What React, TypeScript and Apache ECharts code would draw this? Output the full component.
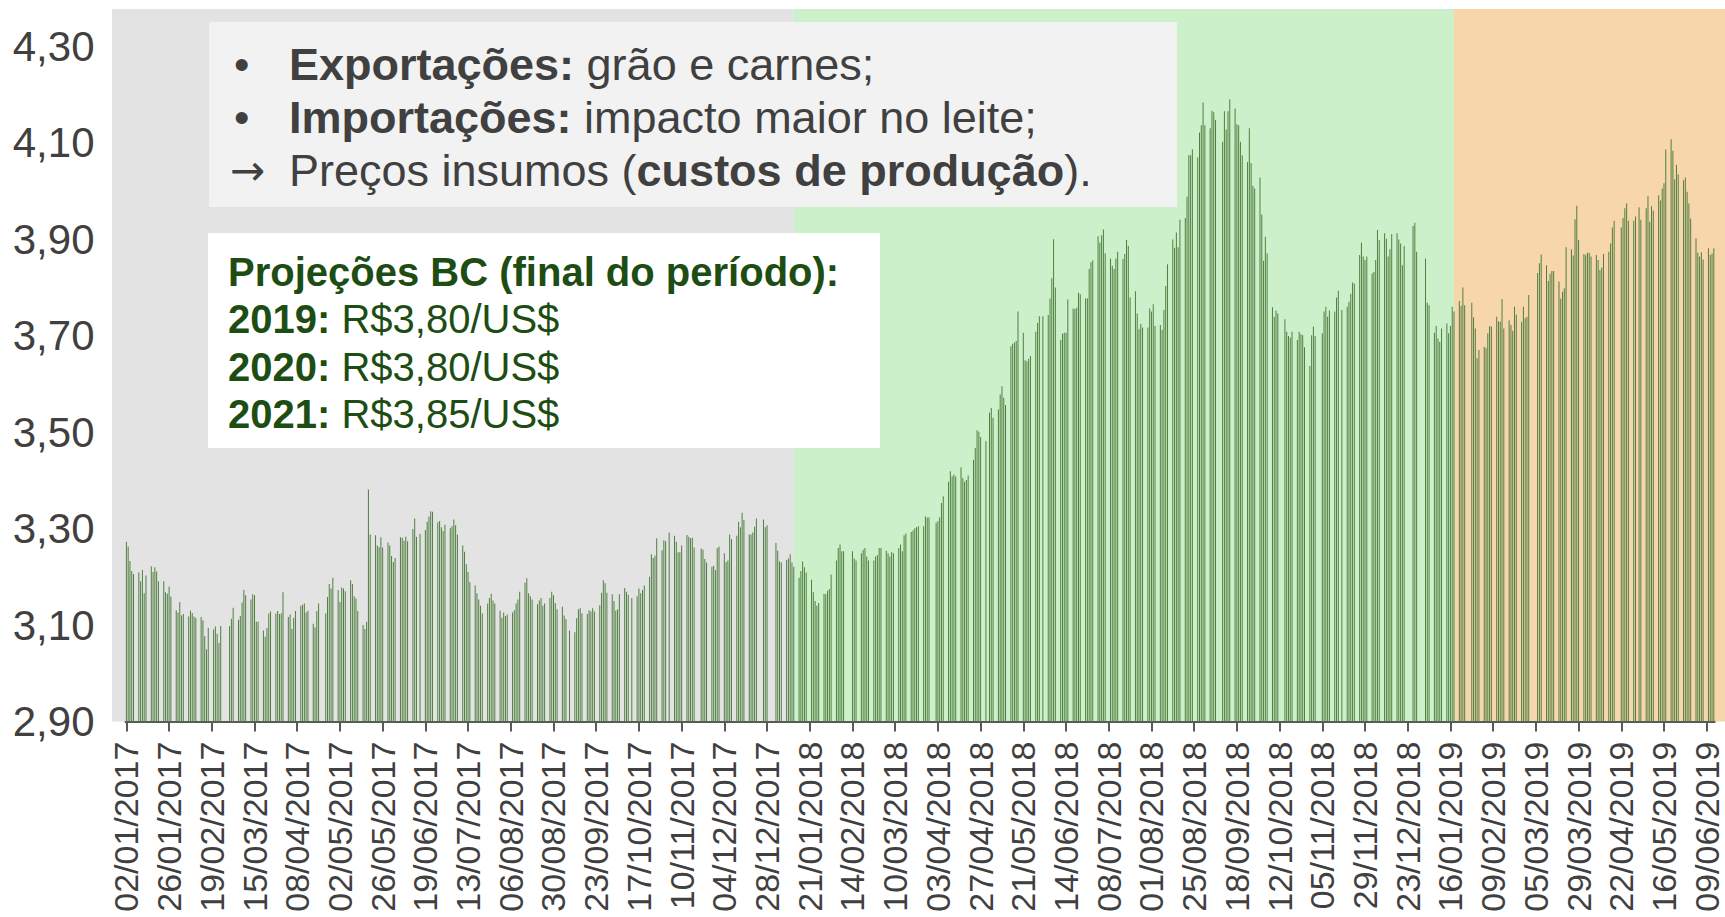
import React, { useEffect, useRef } from 'react';
import * as echarts from 'echarts';

// Calendar range of the category axis (one category per calendar day)
const FIRST_DAY = [2017, 1, 2];
const LAST_DAY = [2019, 6, 13];

// R$/US$ by business day, Monday..Friday of each week (null = no quote)
const rates2017: (number | null)[] = [
  3.273, 3.263, 3.233, 3.212, 3.206, 3.209, 3.191, 3.214, 3.166, 3.203,
  3.222, 3.210, 3.220, 3.211, 3.191, 3.191, 3.168, 3.165, 3.180, 3.159,
  3.131, 3.126, 3.148, 3.120, 3.123, 3.118, 3.130, 3.125, 3.118, 3.115,
  3.117, 3.110, 3.077, 3.050, 3.094, 3.091, 3.097, 3.082, 3.063, 3.098,
  null, null, 3.098, 3.113, 3.136, 3.111, 3.119, 3.147, 3.173, 3.162,
  3.153, 3.164, 3.162, 3.107, 3.107, 3.089, 3.076, 3.094, 3.124, 3.128,
  3.124, 3.129, 3.123, 3.124, 3.168, 3.117, 3.122, 3.092, 3.115, 3.129,
  3.140, 3.142, 3.145, 3.126, 3.130, 3.103, 3.095, 3.129, 3.145, null,
  3.124, 3.158, 3.185, 3.176, 3.198, 3.172, 3.148, 3.178, 3.176, 3.170,
  3.193, 3.185, 3.160, 3.155, 3.129, 3.100, 3.092, 3.107, 3.381, 3.288,
  3.286, 3.265, 3.262, 3.282, 3.261, 3.271, 3.265, 3.243, 3.231, 3.239,
  3.282, 3.281, 3.275, 3.283, 3.274, 3.299, 3.321, 3.283, null, 3.289,
  3.297, 3.314, 3.325, 3.336, 3.335, 3.313, 3.316, 3.303, 3.295, 3.308,
  3.301, 3.305, 3.319, 3.307, 3.288, 3.265, 3.252, 3.226, 3.210, 3.189,
  3.182, 3.166, 3.153, 3.140, 3.124, 3.145, 3.156, 3.165, 3.151, 3.145,
  3.130, 3.115, 3.126, 3.119, 3.122, 3.126, 3.131, 3.145, 3.153, 3.169,
  3.188, 3.197, 3.166, 3.160, 3.153, 3.143, 3.151, 3.156, 3.140, 3.145,
  3.156, 3.169, 3.162, 3.146, 3.133, 3.138, 3.120, 3.112, null, 3.089,
  3.085, 3.114, 3.133, 3.135, 3.124, 3.123, 3.131, 3.128, 3.135, 3.128,
  3.141, 3.167, 3.193, 3.187, 3.167, 3.164, 3.150, 3.130, 3.133, 3.164,
  3.177, 3.169, 3.163, null, 3.156, 3.160, 3.176, 3.166, 3.173, 3.182,
  3.200, 3.247, 3.239, 3.244, 3.280, 3.255, 3.276, 3.274, null, 3.292,
  3.285, 3.273, 3.251, 3.251, 3.265, 3.287, 3.283, 3.280, 3.281, 3.261,
  null, 3.259, 3.256, 3.237, 3.230, 3.221, 3.223, 3.214, 3.260, 3.263,
  3.249, 3.231, 3.234, 3.288, 3.278, 3.285, 3.314, 3.303, 3.333, 3.318,
  3.288, 3.288, 3.292, 3.304, 3.321, null, 3.319, 3.303, 3.307, null,
];

const rates2018: (number | null)[] = [
  null, 3.270, 3.254, 3.232, 3.230, 3.235, 3.238, 3.247, 3.230, 3.221,
  3.198, 3.212, 3.232, 3.220, 3.209, 3.194, 3.168, 3.150, 3.140, 3.146,
  3.165, 3.164, 3.171, 3.175, 3.205, 3.234, 3.260, 3.267, 3.253, 3.253,
  null, null, 3.253, 3.238, 3.234, 3.249, 3.256, 3.260, 3.242, 3.234,
  3.234, 3.242, 3.245, 3.260, 3.260, 3.254, 3.249, 3.242, 3.251, 3.249,
  3.260, 3.267, 3.253, 3.286, 3.290, 3.293, 3.296, 3.301, 3.303, 3.305,
  3.305, 3.325, 3.323, 3.323, null, 3.312, 3.316, 3.323, 3.353, 3.367,
  3.397, 3.419, 3.408, 3.412, 3.408, 3.427, 3.405, 3.397, 3.401, 3.410,
  3.442, 3.467, 3.504, 3.501, 3.490, 3.481, null, 3.540, 3.550, 3.530,
  3.547, 3.578, 3.595, 3.571, 3.556, 3.678, 3.683, 3.686, 3.689, 3.750,
  3.706, 3.649, 3.647, 3.652, 3.658, 3.708, 3.726, 3.740, null, 3.740,
  3.743, 3.777, 3.819, 3.900, 3.800, 3.691, 3.704, 3.706, 3.706, 3.775,
  3.756, 3.755, 3.758, 3.789, 3.786, 3.777, 3.777, 3.838, 3.852, 3.856,
  3.906, 3.893, 3.908, 3.920, 3.871, 3.860, 3.845, 3.838, 3.860, 3.874,
  3.859, 3.869, 3.898, 3.886, 3.779, 3.792, 3.746, 3.713, 3.724, 3.717,
  3.717, 3.756, 3.750, 3.765, 3.720, 3.722, 3.712, 3.753, 3.803, 3.848,
  3.899, 3.882, 3.914, 3.883, 3.940, 3.944, 3.988, 4.074, 4.074, 4.086,
  4.069, 4.121, 4.136, 4.183, 4.136, 4.130, 4.166, 4.163, 4.147, null,
  4.102, 4.165, 4.127, 4.165, 4.190, 4.171, 4.138, 4.136, 4.102, 4.074,
  4.060, 4.130, 4.058, 4.010, 4.005, 4.028, 3.951, 3.855, 3.905, 3.870,
  3.759, 3.739, 3.752, 3.746, null, 3.734, 3.708, 3.699, 3.696, 3.708,
  3.691, 3.708, 3.703, 3.701, 3.676, 3.637, 3.701, 3.719, 3.699, null,
  3.705, 3.750, 3.760, 3.739, 3.752, 3.750, 3.779, 3.793, null, 3.753,
  3.760, 3.770, 3.787, 3.810, 3.808, 3.867, 3.893, 3.864, 3.857, 3.864,
  3.829, 3.832, 3.857, 3.919, 3.898, 3.912, 3.901, 3.864, 3.879, 3.910,
  3.912, 3.899, 3.891, 3.846, 3.886, null, null, 3.927, 3.934, 3.874,
];

const rates2019: (number | null)[] = [
  null, null, 3.860, 3.768, 3.763, 3.706, 3.720, 3.694, 3.687, 3.715,
  3.725, 3.705, 3.720, 3.760, 3.750, 3.772, 3.762, 3.800, 3.763, null,
  3.768, 3.738, 3.715, 3.653, 3.670, 3.677, 3.674, 3.705, 3.720, 3.719,
  3.739, 3.730, 3.729, 3.776, 3.715, 3.732, 3.722, 3.710, 3.760, 3.744,
  3.729, 3.760, 3.736, 3.739, 3.784, null, null, 3.830, 3.850, 3.868,
  3.846, 3.813, 3.828, 3.834, 3.834, 3.812, 3.777, 3.791, 3.798, 3.883,
  3.879, 3.866, 3.941, 3.969, 3.898, 3.869, 3.867, 3.872, 3.872, 3.864,
  3.867, 3.857, 3.836, 3.841, 3.869, 3.874, 3.891, 3.924, 3.938, null,
  3.924, 3.944, 3.964, 3.974, 3.938, 3.938, 3.947, null, 3.966, 3.940,
  3.964, 3.989, 3.936, 3.968, 3.959, 3.991, 3.980, 4.005, 4.016, 4.086,
  4.107, 4.083, 4.024, 4.054, 4.034, 4.022, 4.028, 3.998, 3.974, 3.943,
  3.902, 3.872, 3.864, 3.873, 3.858, 3.881, 3.867, 3.870, 3.881,
];

// Background periods (category where each shading band ends)
const periodEnds = ['12/01/2018', '18/01/2019'];
const periodColors = ['#e3e3e3', '#ccf0c9', '#f8d6ab'];

// Y axis
const Y_MIN = 2.9;
const Y_MAX = 4.377;
const Y_STEP = 0.2;

const boxLines1 = [
  { mark: '•', text: '{b|Exportações:} grão e carnes;' },
  { mark: '•', text: '{b|Importações:} impacto maior no leite;' },
  { mark: '→', text: 'Preços insumos ({b|custos de produção}).' },
];
const boxLines2 = [
  '{b|Projeções BC (final do período):}',
  '{b|2019:} R$3,80/US$',
  '{b|2020:} R$3,80/US$',
  '{b|2021:} R$3,85/US$',
];

const FONT = '"Liberation Sans", Arial, Helvetica, sans-serif';
const pad = (n: number) => (n < 10 ? '0' + n : '' + n);

function buildSeries() {
  const cats: string[] = [];
  const vals: (number | null)[] = [];
  const all = [...rates2017, ...rates2018, ...rates2019];
  let k = 0;
  const start = Date.UTC(FIRST_DAY[0], FIRST_DAY[1] - 1, FIRST_DAY[2]);
  const end = Date.UTC(LAST_DAY[0], LAST_DAY[1] - 1, LAST_DAY[2]);
  for (let t = start; t <= end; t += 86400000) {
    const d = new Date(t);
    cats.push(`${pad(d.getUTCDate())}/${pad(d.getUTCMonth() + 1)}/${d.getUTCFullYear()}`);
    const wd = d.getUTCDay();
    if (wd >= 1 && wd <= 5) {
      vals.push(k < all.length ? all[k] : null);
      k++;
    } else {
      vals.push(null);
    }
  }
  return { cats, vals };
}

export default function App() {
  const ref = useRef<HTMLDivElement>(null);
  useEffect(() => {
    if (!ref.current) return;
    const chart = echarts.init(ref.current, undefined, { renderer: 'svg' });
    const { cats, vals } = buildSeries();
    const GRID = { left: 125.5, right: 10.3, top: 9, bottom: 195.4 };
    chart.setOption({
      animation: false,
      backgroundColor: '#ffffff',
      grid: { ...GRID, containLabel: false },
      xAxis: {
        type: 'category',
        data: cats,
        boundaryGap: true,
        axisLine: { show: true, lineStyle: { color: '#595959', width: 2 } },
        axisTick: { show: true, interval: 23, alignWithLabel: true, length: 10, lineStyle: { color: '#595959', width: 2 } },
        axisLabel: {
          interval: 23,
          rotate: 90,
          margin: 20,
          color: '#404040',
          fontSize: 34,
          fontFamily: FONT,
        },
        splitLine: { show: false },
      },
      yAxis: {
        type: 'value',
        min: Y_MIN,
        max: Y_MAX,
        interval: Y_STEP,
        axisLine: { show: false },
        axisTick: { show: false },
        splitLine: { show: false },
        axisLabel: {
          margin: 31,
          color: '#404040',
          fontSize: 42,
          fontFamily: FONT,
          formatter: (v: number) => {
            const s = (v - Y_MIN) / Y_STEP;
            if (Math.abs(s - Math.round(s)) > 0.01) return '';
            return v.toFixed(2).replace('.', ',');
          },
        },
      },
      series: [
        {
          type: 'bar',
          data: vals,
          barWidth: 0.9,
          itemStyle: { color: '#4f7f40' },
          z: 5,
        },
      ],
    });

    const W = chart.getWidth();
    const yTop = GRID.top;
    const yBot = chart.convertToPixel({ yAxisIndex: 0 }, Y_MIN) as number;
    const xs = [GRID.left - 13.5, ...periodEnds.map((c) => chart.convertToPixel({ xAxisIndex: 0 }, c) as number), W];
    const bg = periodColors.map((color, i) => ({
      type: 'rect',
      id: 'bg' + i,
      z: -10,
      silent: true,
      shape: { x: xs[i], y: yTop, width: xs[i + 1] - xs[i], height: yBot - yTop },
      style: { fill: color },
    }));

    const grey = '#404040';
    const green = '#1d4d13';
    const box1: any[] = [
      { type: 'rect', id: 'box1', z: 50, shape: { x: 209, y: 22, width: 968, height: 185 }, style: { fill: '#f2f2f2' } },
    ];
    boxLines1.forEach((ln, i) => {
      const y = 64 + i * 53.3;
      const isArrow = i === 2;
      box1.push({
        type: 'text', id: 'm' + i, z: 51, x: isArrow ? 230 : 234, y,
        style: {
          text: ln.mark, fill: grey, fontSize: isArrow ? 42 : 44,
          fontFamily: isArrow ? '"DejaVu Sans", sans-serif' : FONT, verticalAlign: 'middle',
        },
      });
      box1.push({
        type: 'text', id: 't' + i, z: 51, x: 289, y,
        style: {
          text: ln.text, fill: grey, fontSize: 45, fontFamily: FONT, verticalAlign: 'middle',
          rich: { b: { fontWeight: 'bold', fontSize: 45, fontFamily: FONT, fill: grey } },
        },
      });
    });
    const box2: any[] = [
      { type: 'rect', id: 'box2', z: 50, shape: { x: 208, y: 233, width: 672, height: 215 }, style: { fill: '#ffffff' } },
    ];
    boxLines2.forEach((ln, i) => {
      box2.push({
        type: 'text', id: 'p' + i, z: 51, x: 228, y: 272 + i * 47.3,
        style: {
          text: ln, fill: green, fontSize: 40, fontFamily: FONT, verticalAlign: 'middle',
          rich: { b: { fontWeight: 'bold', fontSize: 40, fontFamily: FONT, fill: green } },
        },
      });
    });

    chart.setOption({ graphic: [...bg, ...box1, ...box2] });

    return () => chart.dispose();
  }, []);
  return (
    <div
      ref={ref}
      style={{ position: 'fixed', left: 0, top: 0, width: 1725, height: 917 }}
    />
  );
}
